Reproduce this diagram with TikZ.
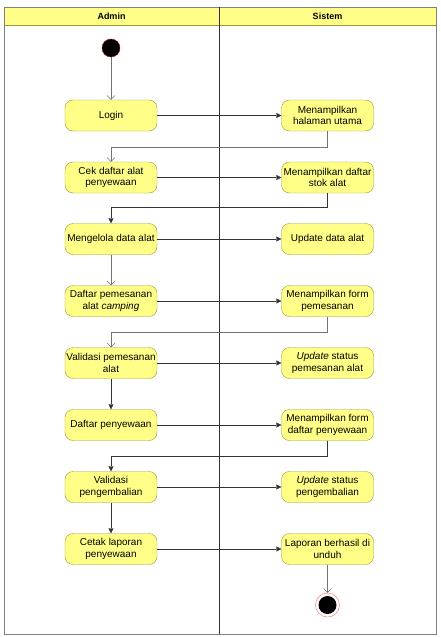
\documentclass[tikz,border=0pt]{standalone}
\usepackage{fontspec}
\setmainfont{Liberation Sans}
\usetikzlibrary{positioning,arrows.meta}
\definecolor{actfill}{HTML}{FFFF88}
\definecolor{actline}{HTML}{999933}

\begin{document}
\begin{tikzpicture}[x=1pt, y=-1pt, font=\fontsize{10}{11.5}\selectfont,
  act/.style={draw=actline, fill=actfill, rounded corners=8pt, align=center, minimum width=92pt, minimum height=31pt, inner sep=1pt},
  flow/.style={draw=black!80, -{Triangle[length=5pt, width=5pt]}},
  back/.style={draw=black!55, -{Straight Barb[length=4pt, width=8pt]}}]
\useasboundingbox (0,0) rectangle (440,637);
% lanes
\draw[draw=actline, fill=actfill] (4,7) rectangle (436,25);
\draw[black!50] (4,7) rectangle (436,634);
\draw[black!80] (219,7) -- (219,634);
\node[font=\fontsize{9}{10}\selectfont\bfseries] (hadm) at (111.5,16) {Admin};
\node[font=\fontsize{9}{10}\selectfont\bfseries] (hsys) at (327.5,16) {Sistem};
% admin
\node[circle, fill=black, draw=red!60!black, minimum size=18pt, inner sep=0pt] (start) at (111,48) {};
\node[act] (login) at (111,115.5) {Login};
\node[act] (cek) at (111,177.5) {Cek daftar alat\\penyewaan};
\node[act] (kelola) at (111,239) {Mengelola data alat};
\node[act] (pesan) at (111,301) {Daftar pemesanan\\alat \textit{camping}};
\node[act] (valpesan) at (111,363) {Validasi pemesanan\\alat};
\node[act] (sewa) at (111,425) {Daftar penyewaan};
\node[act] (valkembali) at (111,487) {Validasi\\pengembalian};
\node[act] (cetak) at (111,549) {Cetak laporan\\penyewaan};
% sistem
\node[act] (utama) at (327.5,115.5) {Menampilkan\\halaman utama};
\node[act] (stok) at (327.5,177.5) {Menampilkan daftar\\stok alat};
\node[act] (update) at (327.5,239) {Update data alat};
\node[act] (formpesan) at (327.5,301) {Menampilkan form\\pemesanan};
\node[act] (stpesan) at (327.5,363) {\textit{Update} status\\pemesanan alat};
\node[act] (formsewa) at (327.5,425) {Menampilkan form\\daftar penyewaan};
\node[act] (stkembali) at (327.5,487) {\textit{Update} status\\pengembalian};
\node[act] (unduh) at (327.5,549) {Laporan berhasil di\\unduh};
\node[circle, draw=red!60, fill=white, minimum size=24pt, inner sep=0pt] (stop) at (327.5,605) {};
\fill[black] (stop.center) circle (9pt);
% flows
\draw[back] (start) -- (login);
\draw[flow] (login) -- (utama);
\draw[back] (utama.south) -- ++(0,16) -| (cek.north);
\draw[flow] (cek) -- (stok);
\draw[flow] (stok.south) -- ++(0,14) -| (kelola.north);
\draw[flow] (kelola) -- (update);
\draw[back] (kelola) -- (pesan);
\draw[flow] (pesan) -- (formpesan);
\draw[back] (formpesan.south) -- ++(0,15) -| (valpesan.north);
\draw[flow] (valpesan) -- (stpesan);
\draw[flow] (valpesan) -- (sewa);
\draw[flow] (sewa) -- (formsewa);
\draw[flow] (formsewa.south) -- ++(0,15) -| (valkembali.north);
\draw[flow] (valkembali) -- (stkembali);
\draw[flow] (valkembali) -- (cetak);
\draw[flow] (cetak) -- (unduh);
\draw[back] (unduh) -- (stop);
\end{tikzpicture}
\end{document}
